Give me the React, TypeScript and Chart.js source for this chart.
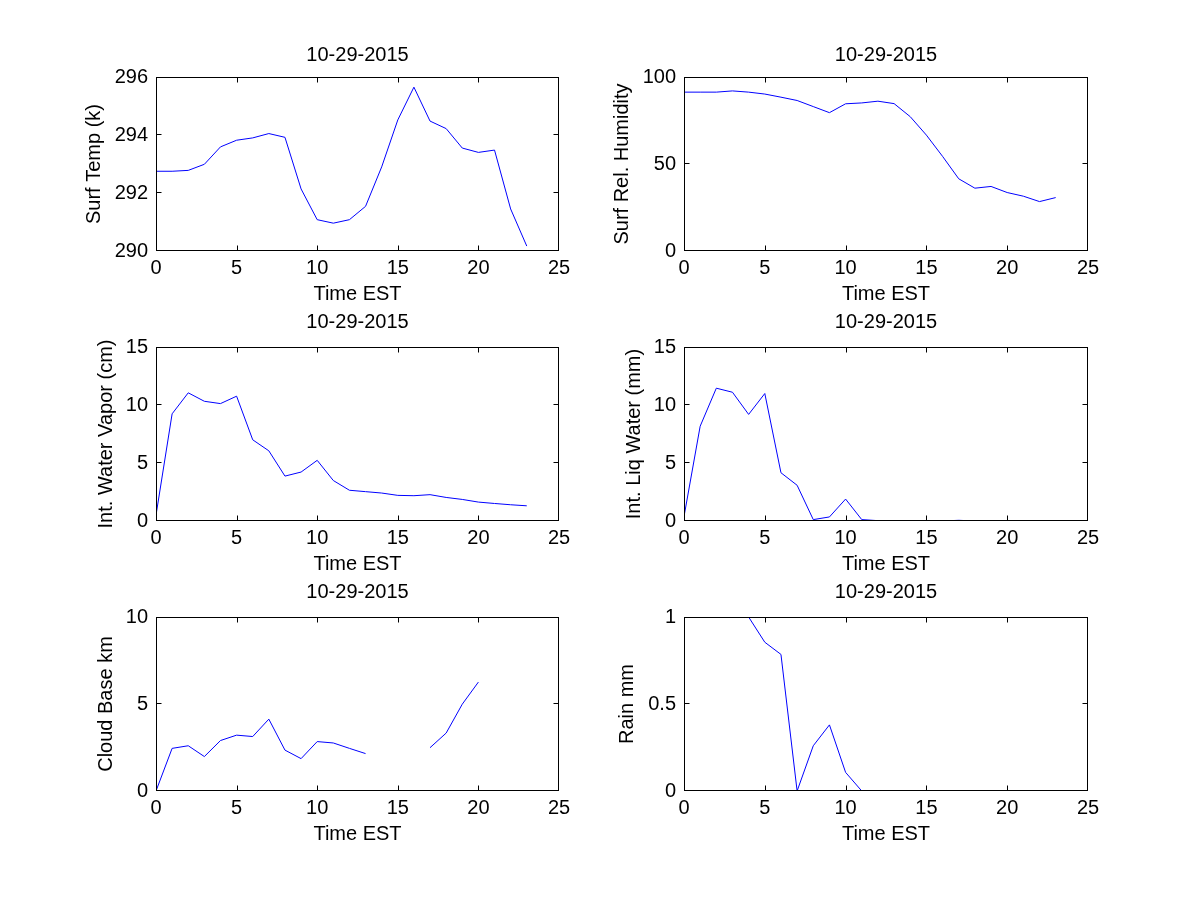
import React, { useEffect, useRef } from "react";
import { Chart, registerables } from "chart.js";

Chart.register(...registerables);

// ---------- data ----------
const dateTitle = "10-29-2015";
const hours = [0, 1, 2, 3, 4, 5, 6, 7, 8, 9, 10, 11, 12, 13, 14, 15, 16, 17, 18, 19, 20, 21, 22, 23];
const xTickValues = [0, 5, 10, 15, 20, 25];

const surfTemp = [292.75, 292.75, 292.78, 292.99, 293.59, 293.82, 293.9, 294.05, 293.92, 292.14, 291.08, 290.96, 291.08, 291.54, 292.9, 294.52, 295.65, 294.48, 294.22, 293.55, 293.4, 293.48, 291.45, 290.17];
const surfRelHumidity = [91.3, 91.3, 91.3, 92.0, 91.3, 90.2, 88.4, 86.5, 83.0, 79.5, 84.6, 85.1, 86.1, 84.7, 77.2, 66.6, 54.4, 41.5, 36.1, 37.1, 33.6, 31.5, 28.4, 30.7];
const intWaterVapor = [0.5, 9.24, 11.05, 10.32, 10.12, 10.76, 7.0, 6.05, 3.87, 4.22, 5.23, 3.49, 2.65, 2.53, 2.41, 2.21, 2.18, 2.27, 2.03, 1.86, 1.63, 1.51, 1.4, 1.31];
const intLiqWater = [0.38, 8.17, 11.45, 11.1, 9.19, 10.99, 4.16, 3.08, 0.12, 0.35, 1.89, 0.12, 0.03, 0, 0, 0, 0, 0.06, 0, 0, 0, 0, 0, 0];
const cloudBase = [0, 2.45, 2.6, 1.98, 2.9, 3.21, 3.13, 4.13, 2.35, 1.86, 2.84, 2.76, 2.45, 2.15, null, null, null, 2.49, 3.33, 4.99, 6.26, null, null, null];
const rain = [null, null, null, null, 1.0, 0.855, 0.785, 0, 0.26, 0.38, 0.107, 0, 0, 0, 0, 0, 0, 0, 0, 0, 0, 0, 0, 0];

const yTicksTemp = [290, 292, 294, 296];
const yTicksHumidity = [0, 50, 100];
const yTicksVapor = [0, 5, 10, 15];
const yTicksLiq = [0, 5, 10, 15];
const yTicksCloud = [0, 5, 10];
const yTicksRain = [0, 0.5, 1];

// ---------- layout ----------
const FONT = "'Liberation Sans', Arial, Helvetica, sans-serif";
const CANVAS_W = 600;
const CANVAS_H = 330;
const ROW_STEP = 270;

type PanelDef = {
  yLabel: string;
  values: (number | null)[];
  yTicks: number[];
  col: number;
  row: number;
  yTitlePad: number;
};

const panels: PanelDef[] = [
  { yLabel: "Surf Temp (k)", values: surfTemp, yTicks: yTicksTemp, col: 0, row: 0, yTitlePad: 82 },
  { yLabel: "Surf Rel. Humidity", values: surfRelHumidity, yTicks: yTicksHumidity, col: 1, row: 0, yTitlePad: 10 },
  { yLabel: "Int. Water Vapor (cm)", values: intWaterVapor, yTicks: yTicksVapor, col: 0, row: 1, yTitlePad: 94 },
  { yLabel: "Int. Liq Water (mm)", values: intLiqWater, yTicks: yTicksLiq, col: 1, row: 1, yTitlePad: 22 },
  { yLabel: "Cloud Base km", values: cloudBase, yTicks: yTicksCloud, col: 0, row: 2, yTitlePad: 94 },
  { yLabel: "Rain mm", values: rain, yTicks: yTicksRain, col: 1, row: 2, yTitlePad: 15 },
];

const framePlugin = {
  id: "matlabFrame",
  afterDatasetsDraw(chart: any) {
    const { ctx, chartArea: a } = chart;
    const xs = chart.scales.x;
    const ys = chart.scales.y;
    const L = a.left + 0.5;
    const R = a.right - 0.5;
    const T = a.top + 0.5;
    const B = a.bottom - 0.5;
    const clamp = (v: number, lo: number, hi: number) => Math.min(hi, Math.max(lo, v));
    ctx.save();
    ctx.strokeStyle = "#000";
    ctx.lineWidth = 1;
    ctx.strokeRect(L, T, R - L, B - T);
    ctx.beginPath();
    const tl = 5;
    for (const t of xs.ticks) {
      const px = clamp(Math.round(xs.getPixelForValue(t.value)) + 0.5, L, R);
      ctx.moveTo(px, B);
      ctx.lineTo(px, B - tl);
      ctx.moveTo(px, T);
      ctx.lineTo(px, T + tl);
    }
    for (const t of ys.ticks) {
      const py = clamp(Math.round(ys.getPixelForValue(t.value)) - 0.5, T, B);
      ctx.moveTo(L, py);
      ctx.lineTo(L + tl, py);
      ctx.moveTo(R, py);
      ctx.lineTo(R - tl, py);
    }
    ctx.stroke();
    ctx.restore();
  },
};

const fmt = (v: number | string) => String(v);

function Panel({ def }: { def: PanelDef }) {
  const ref = useRef<HTMLCanvasElement | null>(null);
  useEffect(() => {
    if (!ref.current) return;
    const yAxisWidth = def.col === 0 ? 156 : 84;
    const padRight = def.col === 0 ? 41 : 112;
    const titlePad = def.row === 0 ? { top: 43, bottom: 10 } : { top: 40, bottom: 13 };
    const yt = def.yTicks;
    const chart = new Chart(ref.current, {
      type: "line",
      data: {
        datasets: [
          {
            data: hours.map((h, i) => ({ x: h, y: def.values[i] })) as any,
            borderColor: "#0000ff",
            borderWidth: 1,
            pointRadius: 0,
            pointHoverRadius: 0,
            tension: 0,
            fill: false,
            spanGaps: false,
            clip: 0 as any,
          },
        ],
      },
      options: {
        animation: false,
        responsive: false,
        devicePixelRatio: 1,
        events: [],
        layout: { padding: { left: 0, right: padRight, top: 0, bottom: 0 } },
        plugins: {
          legend: { display: false },
          tooltip: { enabled: false },
          title: {
            display: true,
            text: dateTitle,
            color: "#000",
            fullSize: false,
            font: { family: FONT, size: 20, weight: "normal", lineHeight: 1.2 },
            padding: titlePad,
          },
        },
        scales: {
          x: {
            type: "linear",
            min: xTickValues[0],
            max: xTickValues[xTickValues.length - 1],
            grid: { display: false, drawTicks: false },
            border: { display: false },
            ticks: {
              color: "#000",
              font: { family: FONT, size: 20, lineHeight: 1.2 },
              padding: 5,
              autoSkip: false,
              maxRotation: 0,
              callback: fmt,
            },
            afterBuildTicks: (s: any) => {
              s.ticks = xTickValues.map((v) => ({ value: v }));
            },
            afterFit: (s: any) => {
              s.height = 79;
            },
            title: {
              display: true,
              text: "Time EST",
              color: "#000",
              font: { family: FONT, size: 20, lineHeight: 1.2 },
              padding: { top: 0, bottom: 24 },
            },
          },
          y: {
            type: "linear",
            min: yt[0],
            max: yt[yt.length - 1],
            grid: { display: false, drawTicks: false },
            border: { display: false },
            ticks: {
              color: "#000",
              font: { family: FONT, size: 20, lineHeight: 1.2 },
              padding: 8,
              autoSkip: false,
              callback: fmt,
            },
            afterBuildTicks: (s: any) => {
              s.ticks = yt.map((v) => ({ value: v }));
            },
            afterFit: (s: any) => {
              s.width = yAxisWidth;
            },
            title: {
              display: true,
              text: def.yLabel,
              color: "#000",
              font: { family: FONT, size: 20, lineHeight: 1.2 },
              padding: { top: def.yTitlePad, bottom: 0 },
            },
          },
        },
      },
      plugins: [framePlugin],
    });
    return () => chart.destroy();
  }, [def]);
  return (
    <canvas
      ref={ref}
      width={CANVAS_W}
      height={CANVAS_H}
      style={{
        position: "absolute",
        left: def.col * CANVAS_W,
        top: def.row * ROW_STEP,
        width: CANVAS_W,
        height: CANVAS_H,
      }}
    />
  );
}

export default function App() {
  return (
    <div
      style={{
        position: "absolute",
        left: 0,
        top: 0,
        width: 1200,
        height: 900,
        background: "#fff",
        overflow: "hidden",
      }}
    >
      {panels.map((p, i) => (
        <Panel key={i} def={p} />
      ))}
    </div>
  );
}
